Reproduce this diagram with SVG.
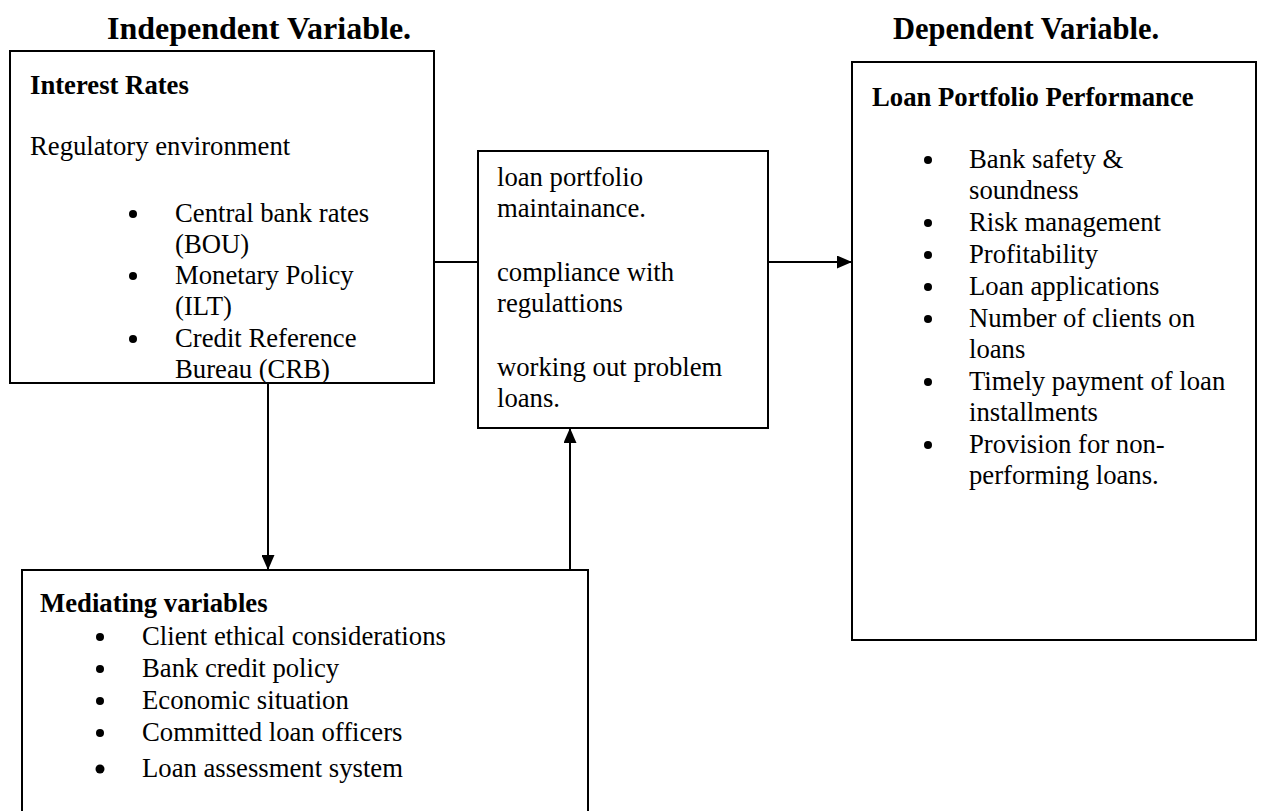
<svg xmlns="http://www.w3.org/2000/svg" width="1262" height="811" viewBox="0 0 1262 811">
<defs>
<style>
.box{fill:#fff;stroke:#000;stroke-width:2}
.t{font-family:"Liberation Serif","Times New Roman",serif;font-size:26.7px;fill:#000}
.b{font-weight:bold}
.h{font-family:"Liberation Serif","Times New Roman",serif;font-size:32px;font-weight:bold;fill:#000}
.ln{stroke:#000;stroke-width:2;fill:none}
.dot{fill:#000}
</style>
<marker id="ah" viewBox="0 0 10 10" refX="10" refY="5" markerWidth="15" markerHeight="13" markerUnits="userSpaceOnUse" orient="auto" preserveAspectRatio="none">
<path d="M0,0 L10,5 L0,10 z" fill="#000"/>
</marker>
</defs>
<rect width="1262" height="811" fill="#fff"/>
<text class="h" x="107" y="39">Independent Variable.</text>
<text class="h" x="893" y="39" style="font-size:30.5px">Dependent Variable.</text>

<g id="connectors">
<path class="ln" d="M434,262 H478"/>
<path class="ln" d="M768,262 H852" marker-end="url(#ah)"/>
<path class="ln" d="M268,383 V570" marker-end="url(#ah)"/>
<path class="ln" d="M570,570 V428" marker-end="url(#ah)"/>
</g>

<g id="interest-rates">
<rect class="box" x="10" y="51" width="424" height="332"/>
<text class="t b" x="30" y="94">Interest Rates</text>
<text class="t" x="30" y="155">Regulatory environment</text>
<circle class="dot" cx="133" cy="214" r="4"/>
<text class="t" x="175" y="222">Central bank rates</text>
<text class="t" x="175" y="253">(BOU)</text>
<circle class="dot" cx="133" cy="276" r="4"/>
<text class="t" x="175" y="284">Monetary Policy</text>
<text class="t" x="175" y="315">(ILT)</text>
<circle class="dot" cx="133" cy="339" r="4"/>
<text class="t" x="175" y="347">Credit Reference</text>
<text class="t" x="175" y="378">Bureau (CRB)</text>
</g>

<g id="maintenance">
<rect class="box" x="478" y="151" width="290" height="277"/>
<text class="t" x="497" y="186">loan portfolio</text>
<text class="t" x="497" y="217">maintainance.</text>
<text class="t" x="497" y="281">compliance with</text>
<text class="t" x="497" y="312">regulattions</text>
<text class="t" x="497" y="376">working out problem</text>
<text class="t" x="497" y="407">loans.</text>
</g>

<g id="loan-portfolio-performance">
<rect class="box" x="852" y="62" width="404" height="578"/>
<text class="t b" x="872" y="106">Loan Portfolio Performance</text>
<circle class="dot" cx="928" cy="160" r="4"/>
<text class="t" x="969" y="168">Bank safety &amp;</text>
<text class="t" x="969" y="199">soundness</text>
<circle class="dot" cx="928" cy="223" r="4"/>
<text class="t" x="969" y="231">Risk management</text>
<circle class="dot" cx="928" cy="255" r="4"/>
<text class="t" x="969" y="263">Profitability</text>
<circle class="dot" cx="928" cy="287" r="4"/>
<text class="t" x="969" y="295">Loan applications</text>
<circle class="dot" cx="928" cy="319" r="4"/>
<text class="t" x="969" y="327">Number of clients on</text>
<text class="t" x="969" y="358">loans</text>
<circle class="dot" cx="928" cy="382" r="4"/>
<text class="t" x="969" y="390">Timely payment of loan</text>
<text class="t" x="969" y="421">installments</text>
<circle class="dot" cx="928" cy="445" r="4"/>
<text class="t" x="969" y="453">Provision for non-</text>
<text class="t" x="969" y="484">performing loans.</text>
</g>

<g id="mediating-variables">
<rect class="box" x="22" y="570" width="566" height="260"/>
<text class="t b" x="40" y="612">Mediating variables</text>
<circle class="dot" cx="100" cy="637" r="4"/>
<text class="t" x="142" y="645">Client ethical considerations</text>
<circle class="dot" cx="100" cy="669" r="4"/>
<text class="t" x="142" y="677">Bank credit policy</text>
<circle class="dot" cx="100" cy="701" r="4"/>
<text class="t" x="142" y="709">Economic situation</text>
<circle class="dot" cx="100" cy="733" r="4"/>
<text class="t" x="142" y="741">Committed loan officers</text>
<circle class="dot" cx="100" cy="769" r="4.5"/>
<text class="t" x="142" y="777">Loan assessment system</text>
</g>
</svg>
